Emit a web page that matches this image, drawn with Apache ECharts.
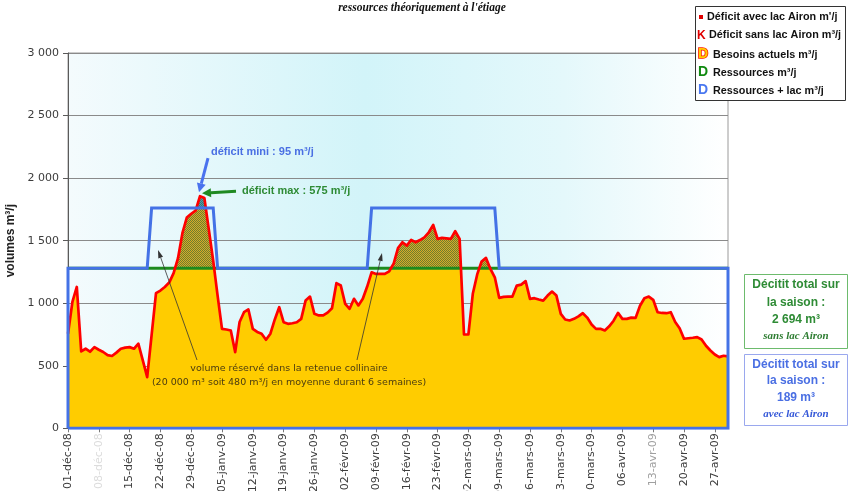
<!DOCTYPE html>
<html>
<head>
<meta charset="utf-8">
<script src="https://cdn.jsdelivr.net/npm/echarts@6/dist/echarts.min.js"></script>
<style>
  html, body { margin: 0; padding: 0; background: #ffffff; }
  #chart { width: 848px; height: 491px; }
</style>
</head>
<body>
<div id="chart"></div>
<script>
// Weekly tick labels of the date axis (one every 7 days from 01-déc-08)
const tickLabels = [
  '01-déc-08', '08-déc-08', '15-déc-08', '22-déc-08', '29-déc-08', '05-janv-09',
  '12-janv-09', '19-janv-09', '26-janv-09', '02-févr-09', '09-févr-09', '16-févr-09',
  '23-févr-09', '02-mars-09', '09-mars-09', '16-mars-09', '23-mars-09', '30-mars-09',
  '06-avr-09', '13-avr-09', '20-avr-09', '27-avr-09'
];

// Daily needs (m³/j), 01-déc-08 .. 30-avr-09
const besoins = [
  756, 1010, 1130, 615, 636, 612, 649, 628, 610, 585,
  578, 605, 636, 645, 649, 636, 676, 543, 409, 745,
  1080, 1101, 1130, 1165, 1240, 1360, 1560, 1685, 1715, 1740,
  1855, 1840, 1590, 1340, 1060, 795, 790, 782, 609, 850,
  928, 950, 795, 770, 756, 708, 756, 870, 968, 848,
  835, 840, 848, 875, 1021, 1053, 915, 902, 902, 925,
  960, 1160, 1141, 995, 955, 1035, 982, 1035, 1133, 1247,
  1234, 1234, 1234, 1255, 1315, 1440, 1487, 1460, 1506, 1487,
  1505, 1527, 1567, 1625, 1514, 1522, 1518, 1514, 1575, 1514,
  750, 750, 1075, 1230, 1333, 1362, 1274, 1207, 1043, 1050,
  1053, 1053, 1141, 1149, 1176, 1035, 1040, 1030, 1021, 1061,
  1093, 1061, 915, 870, 862, 875, 895, 920, 885, 830,
  795, 795, 782, 815, 860, 923, 875, 875, 885, 883,
  980, 1040, 1053, 1027, 928, 922, 920, 928, 850, 800,
  716, 720, 724, 729, 710, 660, 622, 590, 569, 580,
  575
];

// Available resource level (m³/j) and level with the reservoir release
const RESSOURCES = 1280;
const RESSOURCES_LAC = 1760;
// Day indices during which the reservoir supplements the resource
const lacPeriods = [[19, 33], [69, 97]];

const Y_MAX = 3000;
const Y_STEP = 500;

// Daily category names built from the start date
const MOIS = ['janv', 'févr', 'mars', 'avr', 'mai', 'juin', 'juil', 'août', 'sept', 'oct', 'nov', 'déc'];
const pad2 = n => (n < 10 ? '0' : '') + n;
const categories = besoins.map((_, i) => {
  const d = new Date(2008, 11, 1 + i);
  return pad2(d.getDate()) + '-' + MOIS[d.getMonth()] + '-' + String(d.getFullYear()).slice(2);
});
const lastIdx = besoins.length - 1;

const ressourcesSerie = besoins.map(() => RESSOURCES);
const lacSerie = besoins.map((_, i) =>
  lacPeriods.some(([a, b]) => i >= a && i <= b) ? RESSOURCES_LAC : RESSOURCES);
// closed outline: up the left edge, along the level, down the right edge, back along the base
const lacOutline = [[0, 0]].concat(lacSerie.map((v, i) => [i, v]), [[lastIdx, 0], [0, 0]]);

// Plot rectangle
const GRID = { left: 68, right: 120, top: 53, height: 375.3 };
function clipGrid(level) {
  return { left: GRID.left, right: GRID.right, top: GRID.top,
           height: GRID.height * (Y_MAX - level) / Y_MAX, show: false,
           outerBoundsMode: 'none', containLabel: false };
}

// Dotted fill used for the deficit areas
function dotPattern(c1, c2) {
  const cv = document.createElement('canvas');
  cv.width = 2; cv.height = 2;
  const ctx = cv.getContext('2d');
  ctx.fillStyle = c1; ctx.fillRect(0, 0, 2, 2);
  ctx.fillStyle = c2; ctx.fillRect(0, 0, 1, 1); ctx.fillRect(1, 1, 1, 1);
  return { image: cv, repeat: 'repeat' };
}

const fmtThousands = v => v >= 1000 ? Math.floor(v / 1000) + ' ' + String(v % 1000).padStart(3, '0') : String(v);
// washed-out tick labels
const fadedLabel = { '08-déc-08': '#dcdcdc', '13-avr-09': '#a0a0a0' };

const hiddenX = idx => ({ type: 'category', gridIndex: idx, data: categories, boundaryGap: false, show: false });
const hiddenY = (idx, min) => ({ type: 'value', gridIndex: idx, min: min, max: Y_MAX, show: false, splitLine: { show: false } });

const chart = echarts.init(document.getElementById('chart'), null, { renderer: 'canvas' });

const option = {
  animation: false,
  backgroundColor: '#ffffff',
  grid: [
    { left: GRID.left, right: GRID.right, top: GRID.top, height: GRID.height, show: true,
      outerBoundsMode: 'none', containLabel: false,
      borderColor: '#9a9a9a', borderWidth: 1,
      backgroundColor: {
        type: 'linear', x: 0, y: 0, x2: 1, y2: 0,
        colorStops: [
          { offset: 0, color: '#f4fbfd' },
          { offset: 0.45, color: '#d2f4f9' },
          { offset: 0.75, color: '#e4f8fb' },
          { offset: 1, color: '#ffffff' }
        ]
      } },
    clipGrid(RESSOURCES),
    clipGrid(RESSOURCES_LAC)
  ],
  xAxis: [
    {
      type: 'category', gridIndex: 0, data: categories, boundaryGap: false,
      axisLine: { lineStyle: { color: '#7a7a7a' } },
      axisTick: { interval: 6, length: 4, lineStyle: { color: '#7a7a7a' } },
      axisLabel: {
        interval: 6, rotate: 90, margin: 5,
        fontFamily: 'DejaVu Sans', fontSize: 11,
        color: v => fadedLabel[v] || '#3c3c3c',
        formatter: (v, i) => tickLabels[Math.round(i / 7)] || v
      }
    },
    hiddenX(1),
    hiddenX(2)
  ],
  yAxis: [
    {
      type: 'value', gridIndex: 0, min: 0, max: Y_MAX, interval: Y_STEP,
      name: 'volumes m³/j', nameLocation: 'middle', nameGap: 37,
      nameTextStyle: { fontFamily: 'Liberation Sans', fontWeight: 'bold', fontSize: 12, color: '#222' },
      axisLine: { show: true, lineStyle: { color: '#5a5a5a' } },
      axisTick: { show: true, length: 5, lineStyle: { color: '#5a5a5a' } },
      axisLabel: { margin: 9, fontFamily: 'DejaVu Sans', fontSize: 11, color: '#3c3c3c', formatter: fmtThousands },
      splitLine: { lineStyle: { color: '#8a8a8a', width: 1 } }
    },
    hiddenY(1, RESSOURCES),
    hiddenY(2, RESSOURCES_LAC)
  ],
  series: [
    { name: 'Besoins actuels', type: 'line', data: besoins, showSymbol: false, z: 1,
      lineStyle: { width: 0, opacity: 0 },
      areaStyle: { color: '#ffcc00', opacity: 1 } },
    { name: 'Déficit sans lac Airon', type: 'line', xAxisIndex: 1, yAxisIndex: 1, data: besoins,
      showSymbol: false, clip: true, z: 2,
      lineStyle: { width: 0, opacity: 0 },
      areaStyle: { color: dotPattern('#d6ac2a', '#6f7d2c'), opacity: 1, origin: 'start' } },
    { name: 'Déficit avec lac Airon', type: 'line', xAxisIndex: 2, yAxisIndex: 2, data: besoins,
      showSymbol: false, clip: true, z: 2,
      lineStyle: { width: 0, opacity: 0 },
      areaStyle: { color: dotPattern('#4f9bb0', '#3b7a70'), opacity: 1, origin: 'start' } },
    { name: 'Ressources', type: 'line', data: ressourcesSerie, showSymbol: false, z: 3,
      lineStyle: { color: '#1d8a1d', width: 3 } },
    { name: 'Besoins actuels (ligne)', type: 'line', data: besoins, showSymbol: false, z: 4,
      lineStyle: { color: '#ff0000', width: 2.7, join: 'round' } },
    { name: 'Ressources + lac', type: 'line', data: lacOutline, showSymbol: false, z: 5,
      lineStyle: { color: '#4472e6', width: 3, join: 'miter' } }
  ]
};
chart.setOption(option);

// ---- annotations, legend and side boxes ----
function arrow(x1, y1, x2, y2, color, w, hl, hw) {
  const a = Math.atan2(y2 - y1, x2 - x1);
  const bx = x2 - hl * Math.cos(a), by = y2 - hl * Math.sin(a);
  const nx = -Math.sin(a) * hw / 2, ny = Math.cos(a) * hw / 2;
  return [
    { type: 'line', z: 100, shape: { x1: x1, y1: y1, x2: bx, y2: by }, style: { stroke: color, lineWidth: w } },
    { type: 'polygon', z: 100, shape: { points: [[x2, y2], [bx + nx, by + ny], [bx - nx, by - ny]] }, style: { fill: color } }
  ];
}
function txt(x, y, text, font, fill, align) {
  return { type: 'text', z: 101, x: x, y: y,
           style: { text: text, font: font, fill: fill, textAlign: align || 'left', textVerticalAlign: 'middle' } };
}

const peakIdx = besoins.indexOf(Math.max.apply(null, besoins));
const [px, py] = chart.convertToPixel({ xAxisIndex: 0, yAxisIndex: 0 }, [peakIdx, besoins[peakIdx]]);

const BLUE_TXT = '#4a6fe3';
const GREEN_TXT = '#2e8b35';
const elements = [];

// title
elements.push(txt(422, 8, "ressources théoriquement à l'étiage", 'italic bold 11.5px "Liberation Serif"', '#111', 'center'));

// peak call-outs
elements.push(...arrow(px + 8, py - 38, px - 1, py - 4, '#4a72ee', 3, 9, 9));
elements.push(txt(px + 11, py - 44, 'déficit mini : 95 m³/j', 'bold 11px "Liberation Sans"', BLUE_TXT));
elements.push(...arrow(px + 36, py - 5, px + 2, py - 3, '#1f8a22', 3, 9, 9));
elements.push(txt(px + 42, py - 5, 'déficit max : 575 m³/j', 'bold 11px "Liberation Sans"', GREEN_TXT));

// reservoir note with its two pointers
elements.push(...arrow(197, 360, 158, 250, '#333', 0.8, 8, 5));
elements.push(...arrow(357, 360, 382, 253, '#333', 0.8, 8, 5));
elements.push(txt(289, 369, 'volume réservé dans la retenue collinaire', '9.5px "DejaVu Sans"', '#4a3b10', 'center'));
elements.push(txt(289, 383, '(20 000 m³ soit 480 m³/j en moyenne durant 6 semaines)', '9.5px "DejaVu Sans"', '#4a3b10', 'center'));

// legend box
elements.push({ type: 'rect', z: 99, shape: { x: 695.5, y: 6.5, width: 150, height: 94 },
                style: { fill: '#ffffff', stroke: '#333333', lineWidth: 1 } });
const LEG_FONT = 'bold 10.8px "Liberation Sans"';
elements.push({ type: 'rect', z: 101, shape: { x: 699, y: 15, width: 4, height: 4 }, style: { fill: '#e00000' } });
elements.push(txt(707, 17.5, "Déficit avec lac Airon m'/j", LEG_FONT, '#111'));
elements.push(txt(697, 35.5, 'K', 'bold 12px "Liberation Sans"', '#e00000'));
elements.push(txt(709, 35.5, 'Déficit sans lac Airon m³/j', LEG_FONT, '#111'));
elements.push({ type: 'text', z: 101, x: 698, y: 54.5,
                style: { text: 'D', font: 'bold 14px "Liberation Sans"', fill: '#ffcc00', stroke: '#ff1a00', lineWidth: 1.6,
                         textAlign: 'left', textVerticalAlign: 'middle' } });
elements.push(txt(713, 55, 'Besoins actuels m³/j', LEG_FONT, '#111'));
elements.push(txt(698, 72.5, 'D', 'bold 14px "Liberation Sans"', '#118a11'));
elements.push(txt(713, 73, 'Ressources m³/j', LEG_FONT, '#111'));
elements.push(txt(698, 90.5, 'D', 'bold 14px "Liberation Sans"', '#4a78f0'));
elements.push(txt(713, 91, 'Ressources + lac m³/j', LEG_FONT, '#111'));

// season totals
elements.push({ type: 'rect', z: 99, shape: { x: 744.5, y: 274.5, width: 103, height: 74 },
                style: { fill: '#ffffff', stroke: '#6dbb6d', lineWidth: 1 } });
elements.push(txt(796, 285, 'Décitit total sur', 'bold 12px "Liberation Sans"', GREEN_TXT, 'center'));
elements.push(txt(796, 302.5, 'la saison :', 'bold 12px "Liberation Sans"', GREEN_TXT, 'center'));
elements.push(txt(796, 320, '2 694 m³', 'bold 12px "Liberation Sans"', GREEN_TXT, 'center'));
elements.push(txt(796, 336, 'sans lac Airon', 'italic bold 11px "Liberation Serif"', '#2e7d32', 'center'));

elements.push({ type: 'rect', z: 99, shape: { x: 744.5, y: 354.5, width: 103, height: 71 },
                style: { fill: '#ffffff', stroke: '#9aa8ee', lineWidth: 1 } });
elements.push(txt(796, 364.5, 'Décitit total sur', 'bold 12px "Liberation Sans"', BLUE_TXT, 'center'));
elements.push(txt(796, 381, 'la saison :', 'bold 12px "Liberation Sans"', BLUE_TXT, 'center'));
elements.push(txt(796, 397.5, '189 m³', 'bold 12px "Liberation Sans"', BLUE_TXT, 'center'));
elements.push(txt(796, 414, 'avec lac Airon', 'italic bold 11px "Liberation Serif"', '#3558d8', 'center'));

chart.setOption({ graphic: { elements: elements } });
</script>
</body>
</html>
